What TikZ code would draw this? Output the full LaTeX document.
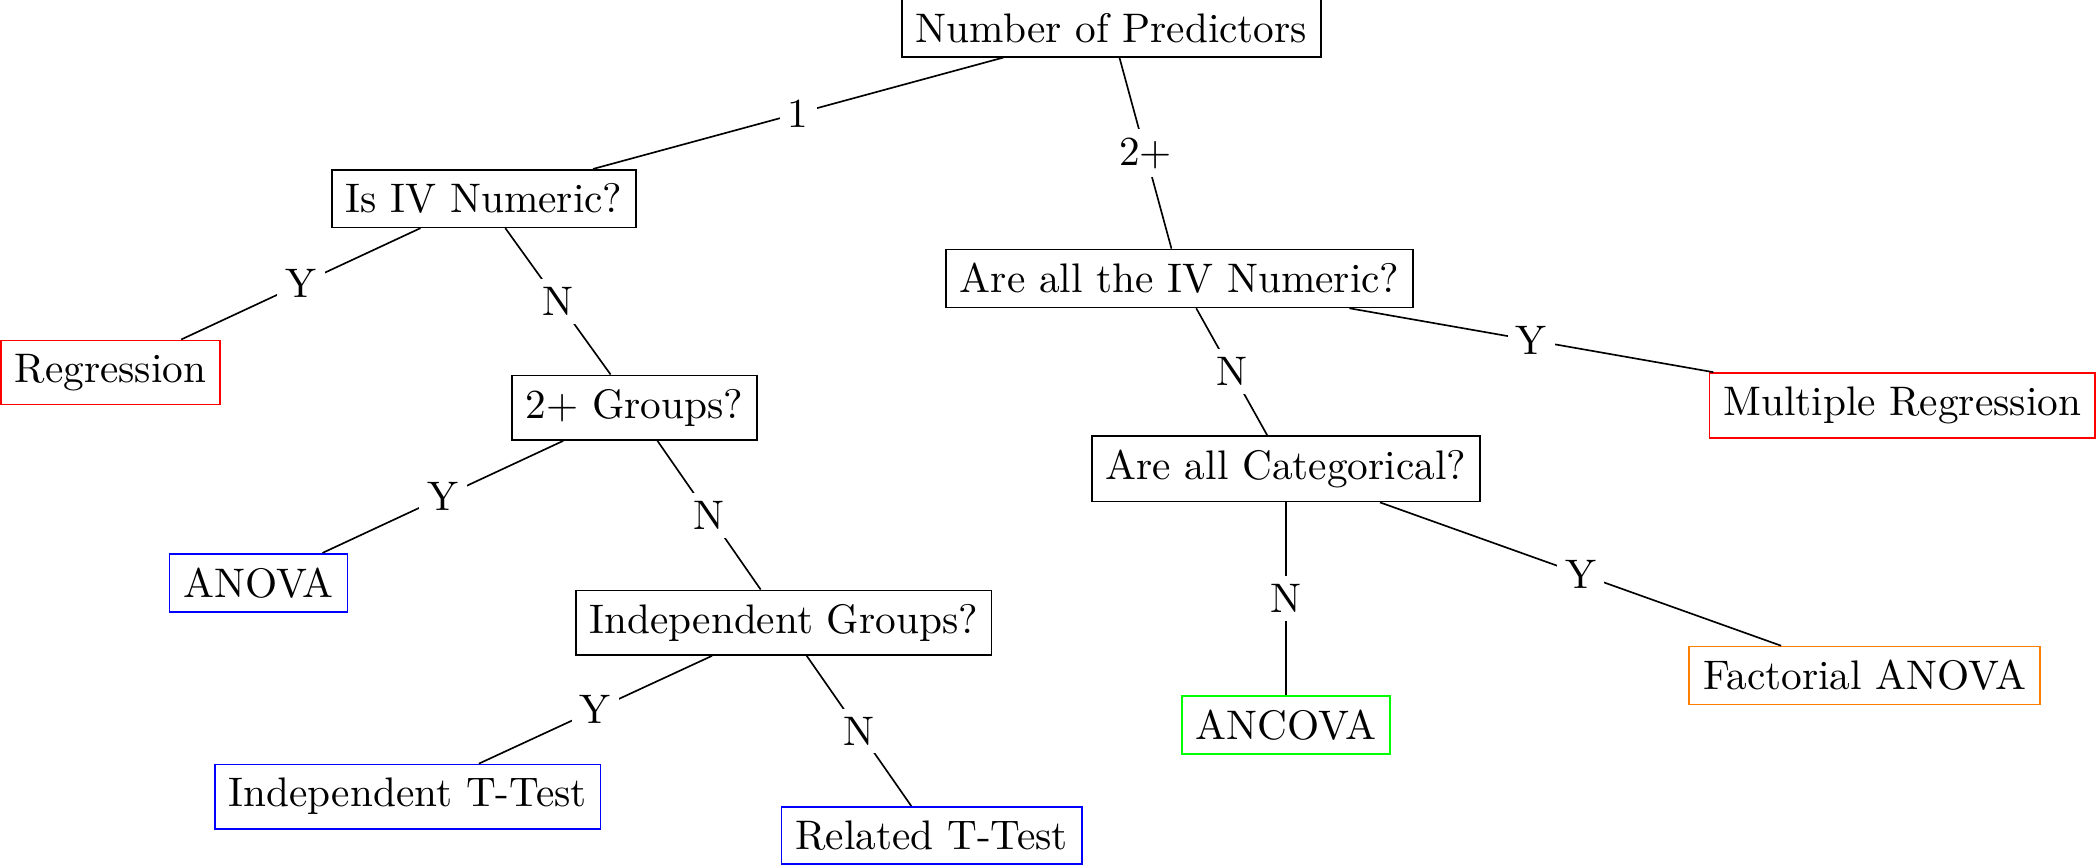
\documentclass[tikz,border=0pt]{standalone}
\usepackage{xcolor}
\usepackage{tikz}

\begin{document}
\begin{tikzpicture}[
	qbox/.style={draw,rectangle},
	res/.style={draw,rectangle},
	lab/.style={fill=white,inner sep=2pt}
]
	\useasboundingbox (0,0) rectangle (17.84,-7.36);
	%
	\node[qbox] (npred) at (9.46,-0.24) {Number of Predictors};
	\node[qbox] (isnum) at (4.12,-1.69) {Is IV Numeric?};
	\node[res,red] (regr) at (0.94,-3.17) {\textcolor{black}{Regression}};
	\node[qbox] (groups) at (5.40,-3.47) {2+ Groups?};
	\node[res,blue] (anova) at (2.20,-4.96) {\textcolor{black}{ANOVA}};
	\node[qbox] (indep) at (6.67,-5.30) {Independent Groups?};
	\node[res,blue] (indtt) at (3.47,-6.78) {\textcolor{black}{Independent T-Test}};
	\node[res,blue] (reltt) at (7.93,-7.11) {\textcolor{black}{Related T-Test}};
	\node[qbox] (allnum) at (10.04,-2.37) {Are all the IV Numeric?};
	\node[res,red] (multreg) at (16.19,-3.45) {\textcolor{black}{Multiple Regression}};
	\node[qbox] (allcat) at (10.945,-3.99) {Are all Categorical?};
	\node[res,green] (ancova) at (10.945,-6.17) {\textcolor{black}{ANCOVA}};
	\node[res,orange] (factanova) at (15.87,-5.75) {\textcolor{black}{Factorial ANOVA}};
	%
	\draw (npred) -- node[lab] {1} (isnum);
	\draw (npred) -- node[lab] {2+} (allnum);
	\draw (isnum) -- node[lab] {Y} (regr);
	\draw (isnum) -- node[lab] {N} (groups);
	\draw (groups) -- node[lab] {Y} (anova);
	\draw (groups) -- node[lab] {N} (indep);
	\draw (indep) -- node[lab] {Y} (indtt);
	\draw (indep) -- node[lab] {N} (reltt);
	\draw (allnum) -- node[lab] {N} (allcat);
	\draw (allnum) -- node[lab] {Y} (multreg);
	\draw (allcat) -- node[lab] {N} (ancova);
	\draw (allcat) -- node[lab] {Y} (factanova);
\end{tikzpicture}
\end{document}
